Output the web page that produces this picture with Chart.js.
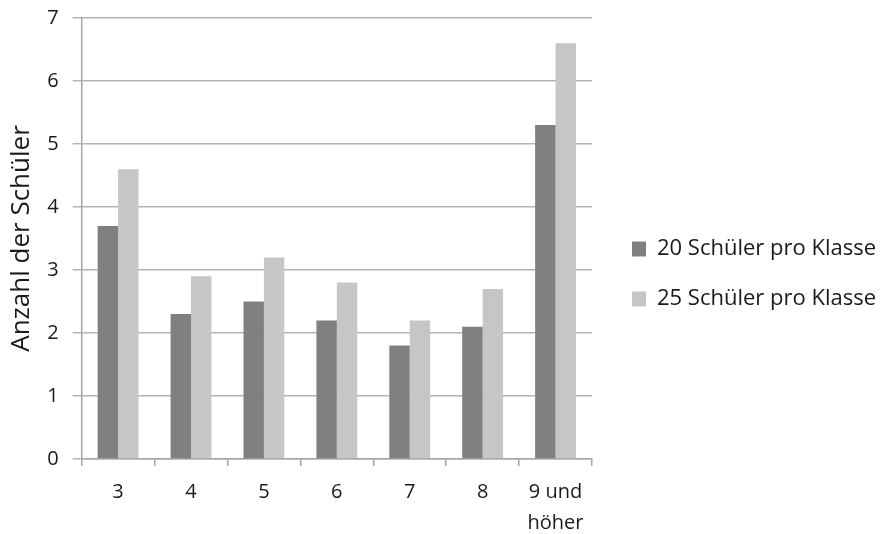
<!DOCTYPE html>
<html><head><meta charset="utf-8">
<script src="https://cdn.jsdelivr.net/npm/chart.js@4.4.0/dist/chart.umd.min.js"></script>
<style>html,body{margin:0;padding:0;background:#fff;font-family:'Open Sans'}#wrap{width:885px;height:534px}</style>
</head><body><div id="wrap"><canvas id="c" width="885" height="534"></canvas></div>
<script>
const categories = ['3','4','5','6','7','8',['9 und','höher']];
const series20 = [3.7, 2.3, 2.5, 2.2, 1.8, 2.1, 5.3];
const series25 = [4.6, 2.9, 3.2, 2.8, 2.2, 2.7, 6.6];
const seriesNames = ['20 Schüler pro Klasse', '25 Schüler pro Klasse'];
const yTicks = [0,1,2,3,4,5,6,7];
const yTitle = 'Anzahl der Schüler';

const FONT = 'Open Sans';
const TXT = '#1a1a1a';
const PLOT_RIGHT = 592, LEGEND_BOX_X = 632, LEGEND_DY = -1, PLOT_TOP = 18;

const legendLayout = {
  id: 'legendLayout',
  beforeLayout(chart) {
    const lg = chart.legend;
    if (lg && !lg._patched) {
      const orig = lg.fit;
      lg.fit = function () { orig.call(this); this.width = chart.width - PLOT_RIGHT; };
      lg._patched = true;
    }
  },
  afterLayout(chart) {
    const lg = chart.legend;
    const pad = lg.options.labels.padding;
    const dx = LEGEND_BOX_X - (lg.left + pad);
    lg.left += dx; lg.right += dx;
    lg.top += LEGEND_DY; lg.bottom += LEGEND_DY;
  }
};

function draw() {
new Chart(document.getElementById('c'), {
  type: 'bar',
  data: {
    labels: categories,
    datasets: [
      {label: seriesNames[0], data: series20, backgroundColor: '#808080', categoryPercentage: 0.56, barPercentage: 1},
      {label: seriesNames[1], data: series25, backgroundColor: '#c6c6c6', categoryPercentage: 0.56, barPercentage: 1}
    ]
  },
  plugins: [legendLayout],
  options: {
    responsive: false, animation: false,
    layout: {padding: {top: 0, right: 0, left: 6, bottom: -16}},
    plugins: {
      tooltip: {enabled: false},
      legend: {
        position: 'right',
        labels: {font: {family: FONT, size: 22}, color: TXT, boxWidth: 14, boxHeight: 15, padding: 28}
      }
    },
    scales: {
      x: {
        grid: {display: true, drawOnChartArea: false, offset: true, color: '#a6a6a6', tickLength: 7, lineWidth: 1.5},
        border: {color: '#a6a6a6', width: 1.5},
        ticks: {font: {family: FONT, size: 20, lineHeight: 1.55}, color: TXT, padding: 11, maxRotation: 0}
      },
      y: {
        min: 0, max: 7,
        afterBuildTicks: (ax) => { ax.ticks = yTicks.map(v => ({value: v})); },
        afterFit: (ax) => { ax.paddingTop = PLOT_TOP; },
        grid: {color: '#b4b4b4', tickLength: 9, lineWidth: 1.5},
        border: {color: '#a6a6a6', width: 1.5},
        ticks: {font: {family: FONT, size: 20}, color: TXT, padding: 14},
        title: {display: true, text: yTitle, font: {family: FONT, size: 26}, color: TXT, padding: {top: 0, bottom: -4}}
      }
    }
  }
});
}
Promise.all([document.fonts.load('20px "Open Sans"')]).then(draw, draw);
</script></body></html>
